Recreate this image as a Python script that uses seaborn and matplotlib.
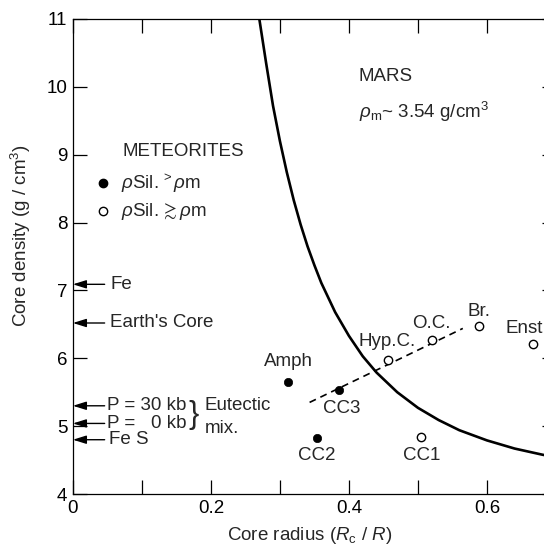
import matplotlib
matplotlib.use("Agg")
import matplotlib.pyplot as plt
import seaborn as sns
import pandas as pd
from matplotlib.ticker import MultipleLocator

# ---------------- data ----------------
curve_r = [0.270, 0.280, 0.290, 0.300, 0.310, 0.320, 0.330, 0.340, 0.350, 0.360,
           0.380, 0.400, 0.420, 0.440, 0.470, 0.500, 0.530, 0.560, 0.600, 0.640,
           0.680, 0.700]
curve_rho = [11.01, 10.35, 9.72, 9.20, 8.74, 8.33, 7.97, 7.65, 7.37, 7.11,
             6.68, 6.33, 6.03, 5.79, 5.50, 5.27, 5.09, 4.94, 4.79, 4.67,
             4.58, 4.54]

trend_r = [0.343, 0.565]
trend_rho = [5.35, 6.44]

filled_names = ["Amph", "CC3", "CC2"]
filled_r = [0.312, 0.386, 0.354]
filled_rho = [5.65, 5.53, 4.83]

open_names = ["CC1", "Hyp.C.", "O.C.", "Br.", "Enst."]
open_r = [0.505, 0.456, 0.520, 0.589, 0.666]
open_rho = [4.84, 5.98, 6.27, 6.48, 6.21]

ref_labels = ["Fe", "Earth's Core", "P = 30 kb", "P =   0 kb", "Fe S"]
ref_rho = [7.09, 6.52, 5.30, 5.04, 4.80]

xticks = [0, 0.2, 0.4, 0.6]
xtick_labels = ["0", "0.2", "0.4", "0.6"]
yticks = [4, 5, 6, 7, 8, 9, 10, 11]

# ---------------- style ----------------
sns.set_style("ticks")
plt.rcParams["font.family"] = ["Liberation Sans", "DejaVu Sans"]
plt.rcParams["mathtext.fontset"] = "custom"
plt.rcParams["mathtext.rm"] = "Liberation Sans"
plt.rcParams["mathtext.it"] = "Liberation Sans:italic"
plt.rcParams["mathtext.bf"] = "Liberation Sans:bold"
plt.rcParams["lines.scale_dashes"] = False

FS = 13.5
fig = plt.figure(figsize=(5.44, 5.50), dpi=100)
ax = fig.add_axes([0.134, 0.1018, 0.888, 0.8637])

# curve
sns.lineplot(x=curve_r, y=curve_rho, ax=ax, color="black", linewidth=1.9,
             sort=False, estimator=None)
# dashed trend
sns.lineplot(x=trend_r, y=trend_rho, ax=ax, color="black", linewidth=1.2,
             sort=False, estimator=None)
ax.lines[-1].set_dashes([5, 3.6])

df_f = pd.DataFrame({"r": filled_r, "rho": filled_rho, "name": filled_names})
df_o = pd.DataFrame({"r": open_r, "rho": open_rho, "name": open_names})
sns.scatterplot(data=df_f, x="r", y="rho", ax=ax, color="black", s=36,
                edgecolor="black", linewidth=0.5, zorder=5)
sns.scatterplot(data=df_o, x="r", y="rho", ax=ax, facecolor="white", s=36,
                edgecolor="black", linewidth=1.0, zorder=5)

# point labels (offsets in points)
offsets = {"Amph": (0, 14.5), "CC3": (2, -13), "CC2": (0, -13),
           "CC1": (0, -13.5), "Hyp.C.": (0, 13), "O.C.": (0, 12),
           "Br.": (0, 10), "Enst.": (-4, 11)}
for nm, xx, yy in zip(filled_names + open_names, filled_r + open_r, filled_rho + open_rho):
    dx, dy = offsets[nm]
    ax.annotate(nm, (xx, yy), xytext=(dx, dy), textcoords="offset points",
                ha="center", va="center", fontsize=FS, clip_on=False)

# reference arrows on y axis
for lab, yy in zip(ref_labels, ref_rho):
    ax.annotate("", xy=(0.0, yy), xytext=(0.046, yy),
                arrowprops=dict(arrowstyle="-|>,head_length=0.8,head_width=0.25",
                                color="black", lw=1.0, shrinkA=0, shrinkB=0))
    tx = 0.054 if lab in ("Fe", "Earth's Core") else 0.049
    if lab == "Fe S":
        tx = 0.053
    ax.text(tx, yy, lab, ha="left", va="center", fontsize=FS)

ax.text(0.168, 5.17, "}", ha="left", va="center", fontsize=22,
        fontweight="light")
ax.text(0.191, 5.31, "Eutectic", ha="left", va="center", fontsize=FS)
ax.text(0.191, 4.97, "mix.", ha="left", va="center", fontsize=FS)

# legend block
ax.text(0.072, 9.04, "METEORITES", ha="left", va="center", fontsize=FS)
ax.scatter([0.043], [8.58], s=36, color="black", zorder=5)
ax.scatter([0.043], [8.17], s=36, facecolor="white", edgecolor="black",
           linewidth=1.0, zorder=5)
ax.text(0.070, 8.58, r"$\rho$Sil.$\,^{>}\rho$m",
        ha="left", va="center", fontsize=FS)
ax.text(0.070, 8.17, r"$\rho$Sil.$\,\gtrsim\rho$m",
        ha="left", va="center", fontsize=FS)

# Mars text
ax.text(0.414, 10.15, "MARS", ha="left", va="center", fontsize=FS)
ax.text(0.414, 9.63, r"$\rho_{\mathrm{m}}$~ 3.54 g/cm$^3$", ha="left",
        va="center", fontsize=FS)

# axes
ax.set_xlim(0, 0.7)
ax.set_ylim(4, 11)
ax.set_xticks(xticks)
ax.set_xticklabels(xtick_labels)
ax.xaxis.set_minor_locator(MultipleLocator(0.1))
ax.set_yticks(yticks)
ax.tick_params(which="both", direction="in", length=10, width=0.9,
               top=True, right=True, labelsize=FS, pad=4, colors="black")
for sp in ax.spines.values():
    sp.set_linewidth(0.9)
    sp.set_color("black")
    sp.set_visible(True)

ax.set_xlabel(r"Core radius ($R_{\mathrm{c}}$ / $R$)", fontsize=FS)
ax.set_ylabel(r"Core density (g / cm$^3$)", fontsize=FS)
ax.xaxis.set_label_coords(0.49, -0.065)
ax.yaxis.set_label_coords(-0.083, 0.543)

fig.savefig("out.png", dpi=100)
